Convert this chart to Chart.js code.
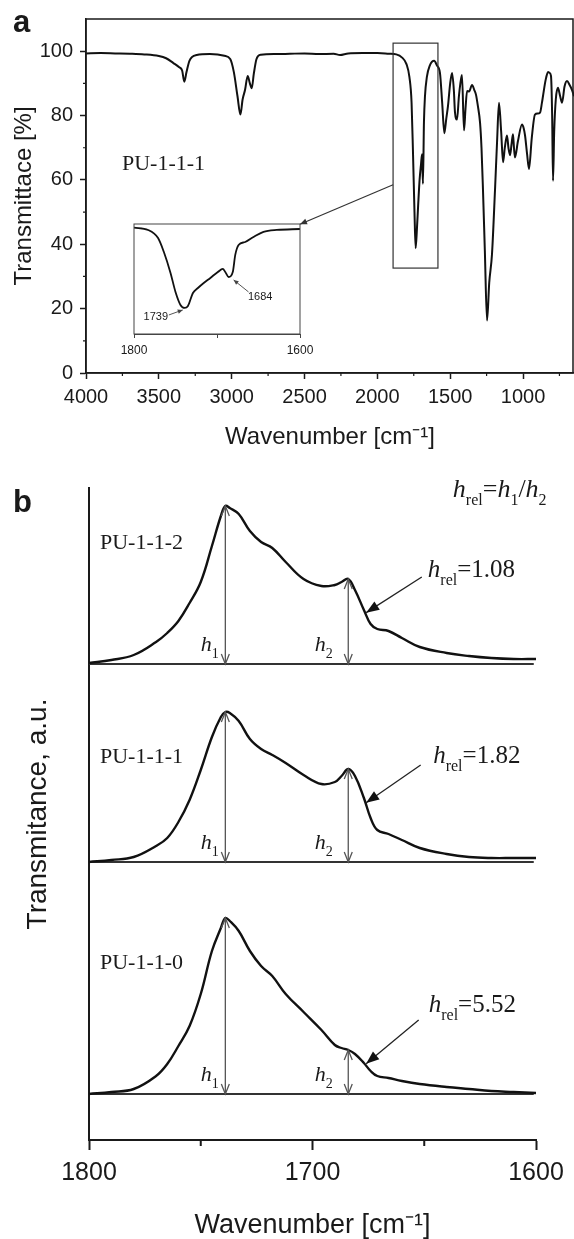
<!DOCTYPE html>
<html>
<head>
<meta charset="utf-8">
<script src="https://cdn.jsdelivr.net/npm/chart.js@4/dist/chart.umd.min.js"></script>
<style>
  body { margin: 0; background: #fff; }
  #wrap { position: relative; width: 574px; height: 1239px; background: #fff; }
  canvas { position: absolute; left: 0; }
</style>
</head>
<body>
<div id="wrap">
  <canvas id="chartA" width="574" height="452" style="top:0"></canvas>
  <canvas id="inset" width="230" height="170" style="top:195px;left:100px"></canvas>
  <canvas id="chartB" width="574" height="779" style="top:460px"></canvas>
</div>
<script>
const SANS = '"Liberation Sans", Arial, sans-serif';
const SERIF = '"Liberation Serif", "Times New Roman", serif';
const INK = '#1a1a1a';

// panel a - full spectrum of PU-1-1-1
const fullWavenumber = [4000, 3900, 3800, 3700, 3600, 3500, 3450, 3400, 3360, 3340, 3325, 3310, 3290, 3240, 3150, 3050,
  3010, 2985, 2960, 2940, 2925, 2908, 2890, 2875, 2862, 2848, 2830, 2800, 2700, 2600, 2500, 2400, 2300, 2256, 2200, 2100,
  2000, 1920, 1870, 1830, 1800, 1780, 1765, 1755, 1745, 1737, 1728, 1720, 1710, 1700, 1693, 1687, 1680, 1673, 1660, 1640,
  1610, 1590, 1570, 1555, 1540, 1527, 1515, 1500, 1487, 1475, 1467, 1453, 1440, 1430, 1419, 1405, 1395, 1384, 1370, 1350,
  1335, 1323, 1310, 1295, 1285, 1275, 1262, 1247, 1232, 1213, 1192, 1178, 1165, 1150, 1137, 1125, 1110, 1100, 1089, 1079,
  1069, 1062, 1055, 1035, 1007, 995, 986, 972, 959, 940, 918, 900, 883, 870, 863, 845, 828, 818, 808, 800, 794, 786, 775,
  760, 745, 732, 715, 698, 680, 664, 650];
const fullTransmittance = [99.3, 99.4, 99.3, 99.2, 99.0, 98.5, 97.8, 96.3, 95.0, 94.0, 90.5, 93.5, 97.0, 98.8, 99.1, 98.6,
  97.6, 93.5, 86.0, 80.3, 85.0, 88.0, 92.3, 90.0, 88.5, 93.0, 97.5, 98.9, 99.1, 99.2, 99.3, 99.1, 99.2, 98.8, 99.3, 99.4,
  99.4, 99.2, 99.0, 98.0, 96.0, 92.0, 84.0, 68.0, 50.0, 38.8, 45.0, 52.0, 60.0, 65.0, 68.0, 58.8, 78.0, 86.0, 92.0, 95.5,
  97.0, 95.5, 93.2, 84.0, 74.5, 79.0, 83.0, 90.0, 93.2, 88.0, 81.0, 78.8, 86.0, 90.0, 92.6, 75.4, 82.0, 87.6, 87.5, 89.5,
  88.0, 86.5, 83.0, 77.8, 70.0, 57.2, 38.0, 16.3, 28.0, 36.9, 57.2, 72.0, 84.0, 75.0, 65.5, 70.0, 73.8, 70.0, 67.7, 71.0,
  74.2, 70.0, 67.0, 72.0, 77.2, 76.0, 73.8, 68.0, 63.4, 73.0, 80.3, 80.6, 80.9, 84.0, 86.0, 91.0, 93.5, 93.3, 92.3, 80.0, 59.7, 75.0, 85.0,
  88.6, 86.0, 84.0, 89.0, 90.7, 89.5, 88.0, 86.0];
const fullTicksX = [4000, 3500, 3000, 2500, 2000, 1500, 1000];
const fullMinorX = [3750, 3250, 2750, 2250, 1750, 1250, 750];
const fullTicksY = [0, 20, 40, 60, 80, 100];
const fullMinorY = [10, 30, 50, 70, 90];

// inset - carbonyl band
const insetWavenumber = [1800, 1783, 1771, 1764, 1756, 1750, 1744, 1739, 1735, 1729, 1723, 1716, 1708, 1699, 1693, 1690,
  1686, 1681, 1678, 1674, 1666, 1656, 1644, 1628, 1600];
const insetTransmittance = [99.5, 97.8, 91.7, 81.1, 65.3, 50.9, 41.1, 38.8, 40.3, 50.1, 53.9, 57.7, 61.5, 66.0, 68.3, 66.0,
  62.2, 66.0, 78.9, 86.4, 88.7, 92.5, 96.3, 97.8, 98.5];
const insetTicks = [1800, 1700, 1600];
const insetLabels = ['1800', '', '1600'];

// panel b - carbonyl band of the three samples
const bandWavenumber = [1800, 1790, 1780, 1770, 1765, 1760, 1755, 1750, 1745, 1741, 1739, 1737, 1733, 1728, 1723, 1718,
  1712, 1704, 1696, 1690, 1687, 1684, 1681, 1677, 1674, 1671, 1666, 1660, 1652, 1640, 1630, 1620, 1610, 1600];
const pu112 = [0.01, 0.04, 0.09, 0.22, 0.31, 0.43, 0.61, 0.82, 1.18, 1.48, 1.58, 1.56, 1.50, 1.33, 1.22, 1.16,
  1.02, 0.85, 0.78, 0.79, 0.82, 0.85, 0.74, 0.54, 0.40, 0.35, 0.33, 0.26, 0.17, 0.11, 0.08, 0.06, 0.05, 0.05];
const pu111 = [0.00, 0.02, 0.05, 0.16, 0.24, 0.40, 0.62, 0.92, 1.25, 1.45, 1.50, 1.49, 1.41, 1.23, 1.13, 1.07,
  0.99, 0.87, 0.78, 0.80, 0.86, 0.93, 0.86, 0.64, 0.44, 0.32, 0.28, 0.22, 0.14, 0.08, 0.05, 0.04, 0.04, 0.04];
const pu110 = [0.00, 0.02, 0.05, 0.18, 0.30, 0.48, 0.68, 1.00, 1.43, 1.66, 1.76, 1.73, 1.63, 1.43, 1.28, 1.18,
  1.00, 0.82, 0.64, 0.49, 0.46, 0.44, 0.40, 0.31, 0.23, 0.18, 0.16, 0.13, 0.10, 0.07, 0.05, 0.03, 0.02, 0.01];
const sampleNames = ['PU-1-1-2', 'PU-1-1-1', 'PU-1-1-0'];
const sampleSeries = [pu112, pu111, pu110];
const sampleOffsets = [4.76, 2.78, 0.46];
const hRelValues = ['1.08', '1.82', '5.52'];
const peakPositions = [1739, 1684];
const bandTicks = [1800, 1700, 1600];
const bandMinor = [1750, 1650];

const toPoints = (xs, ys, off = 0) => xs.map((x, i) => ({ x, y: ys[i] + off }));

function valueAt(xs, ys, w) {
  for (let i = 0; i < xs.length - 1; i++) {
    if (w <= xs[i] && w >= xs[i + 1]) {
      const t = (xs[i] - w) / (xs[i] - xs[i + 1]);
      return ys[i] + t * (ys[i + 1] - ys[i]);
    }
  }
  return ys[ys.length - 1];
}

function arrowHead(ctx, x1, y1, x2, y2, len, half, filled) {
  const a = Math.atan2(y2 - y1, x2 - x1);
  const bx = x2 - len * Math.cos(a), by = y2 - len * Math.sin(a);
  const nx = -Math.sin(a) * half, ny = Math.cos(a) * half;
  ctx.beginPath();
  ctx.moveTo(bx + nx, by + ny);
  ctx.lineTo(x2, y2);
  ctx.lineTo(bx - nx, by - ny);
  if (filled) { ctx.closePath(); ctx.fill(); } else { ctx.stroke(); }
}

function arrow(ctx, x1, y1, x2, y2, len, half, filled) {
  ctx.beginPath();
  ctx.moveTo(x1, y1);
  ctx.lineTo(x2, y2);
  ctx.stroke();
  arrowHead(ctx, x1, y1, x2, y2, len, half, filled);
}

// text with italic / subscript parts, left aligned on the baseline
function richText(ctx, x, y, parts, size) {
  let cx = x;
  ctx.textBaseline = 'alphabetic';
  ctx.textAlign = 'left';
  parts.forEach(p => {
    const s = p.sub ? Math.round(size * 0.62) : size;
    ctx.font = (p.it ? 'italic ' : '') + s + 'px ' + SERIF;
    ctx.fillText(p.t, cx, y + (p.sub ? size * 0.3 : 0));
    cx += ctx.measureText(p.t).width;
  });
}

function minorTicks(ctx, chart, xs, ys, len, width) {
  const ca = chart.chartArea;
  ctx.lineWidth = width;
  ctx.beginPath();
  xs.forEach(v => {
    const px = chart.scales.x.getPixelForValue(v);
    ctx.moveTo(px, ca.bottom); ctx.lineTo(px, ca.bottom + len);
  });
  ys.forEach(v => {
    const py = chart.scales.y.getPixelForValue(v);
    ctx.moveTo(ca.left, py); ctx.lineTo(ca.left - len, py);
  });
  ctx.stroke();
}

const plain = v => String(v);

const axisCommon = (size, tickLen, width) => ({
  ticks: { font: { family: SANS, size: size }, color: INK, maxRotation: 0, autoSkip: false, callback: plain },
  grid: { drawOnChartArea: false, tickLength: tickLen, tickColor: INK, tickWidth: width },
  border: { color: INK, width: width }
});

/**
 * Panel a
 */
const ax = axisCommon(20, 6, 1.5);
new Chart(document.getElementById('chartA'), {
  type: 'line',
  data: {
    datasets: [{
      data: toPoints(fullWavenumber, fullTransmittance),
      borderColor: '#111', borderWidth: 2, pointRadius: 0, cubicInterpolationMode: 'monotone'
    }]
  },
  options: {
    responsive: false, animation: false,
    layout: { padding: { top: 14, left: 0, right: 0, bottom: 0 } },
    plugins: { legend: { display: false }, tooltip: { enabled: false } },
    scales: {
      x: {
        type: 'linear', reverse: true, min: 650, max: 4000,
        afterBuildTicks: s => { s.ticks = fullTicksX.map(v => ({ value: v })); },
        afterFit: s => { s.height = 79; },
        ticks: { ...ax.ticks, padding: 6 },
        grid: ax.grid, border: ax.border,
        title: { display: true, text: 'Wavenumber [cm⁻¹]', color: INK,
          font: { family: SANS, size: 24, lineHeight: 1 }, padding: { top: 0, bottom: 3 } }
      },
      y: {
        type: 'linear', min: 0, max: 110,
        afterBuildTicks: s => { s.ticks = fullTicksY.map(v => ({ value: v })); },
        afterFit: s => { s.width = 86; },
        ticks: { ...ax.ticks, padding: 7 },
        grid: ax.grid, border: ax.border,
        title: { display: true, text: 'Transmittace [%]', color: INK,
          font: { family: SANS, size: 24, lineHeight: 1 }, padding: { top: 12, bottom: 0 } }
      }
    }
  },
  plugins: [{
    id: 'panelA',
    afterDraw(chart) {
      const { ctx, chartArea: ca } = chart;
      const X = v => chart.scales.x.getPixelForValue(v);
      const Y = v => chart.scales.y.getPixelForValue(v);
      ctx.save();
      ctx.strokeStyle = INK;
      ctx.lineWidth = 1.5;
      ctx.strokeRect(ca.left, ca.top, ca.right - ca.left - 1, ca.bottom - ca.top);
      minorTicks(ctx, chart, fullMinorX, fullMinorY, 3, 1.2);

      // zoom box around the carbonyl band
      ctx.strokeStyle = '#333';
      ctx.lineWidth = 1.2;
      ctx.strokeRect(X(1892), Y(102.5), X(1584) - X(1892), Y(32.6) - Y(102.5));
      ctx.fillStyle = '#333';
      arrow(ctx, X(1892), Y(58.5), X(2531), Y(46.2), 7, 3, true);

      ctx.fillStyle = INK;
      ctx.font = '22px ' + SERIF;
      ctx.textAlign = 'left';
      ctx.textBaseline = 'middle';
      ctx.fillText('PU-1-1-1', X(3753), Y(64.9));

      ctx.font = 'bold 31px ' + SANS;
      ctx.textBaseline = 'alphabetic';
      ctx.fillText('a', 13, 32);
      ctx.restore();
    }
  }]
});

/**
 * Inset of panel a
 */
new Chart(document.getElementById('inset'), {
  type: 'line',
  data: {
    datasets: [{
      data: toPoints(insetWavenumber, insetTransmittance),
      borderColor: '#111', borderWidth: 1.8, pointRadius: 0, cubicInterpolationMode: 'monotone'
    }]
  },
  options: {
    responsive: false, animation: false,
    layout: { padding: { top: 29, left: 34, right: 30, bottom: 0 } },
    plugins: { legend: { display: false }, tooltip: { enabled: false } },
    scales: {
      x: {
        type: 'linear', reverse: true, min: 1600, max: 1800,
        afterBuildTicks: s => { s.ticks = insetTicks.map(v => ({ value: v })); },
        afterFit: s => { s.height = 31; },
        ticks: { font: { family: SANS, size: 12 }, color: INK, padding: 5, maxRotation: 0, autoSkip: false,
          callback: (v, i) => insetLabels[i] },
        grid: { drawOnChartArea: false, tickLength: 4, tickColor: '#444', tickWidth: 1 },
        border: { color: '#444', width: 1 }
      },
      y: { display: false, min: 19.1, max: 102.3 }
    }
  },
  plugins: [{
    id: 'insetNotes',
    afterDraw(chart) {
      const { ctx, chartArea: ca } = chart;
      const X = v => chart.scales.x.getPixelForValue(v);
      const Y = v => chart.scales.y.getPixelForValue(v);
      ctx.save();
      ctx.strokeStyle = '#444';
      ctx.lineWidth = 1;
      ctx.strokeRect(ca.left, ca.top, ca.right - ca.left, ca.bottom - ca.top);
      ctx.fillStyle = '#444';
      ctx.strokeStyle = '#555';
      arrow(ctx, X(1758), Y(33.5), X(1741.3), Y(37.3), 5, 2.2, true);
      arrow(ctx, X(1662), Y(50.9), X(1680), Y(60), 5, 2.2, true);
      ctx.fillStyle = INK;
      ctx.font = '11px ' + SANS;
      ctx.textAlign = 'center';
      ctx.textBaseline = 'middle';
      ctx.fillText('1739', X(1773.7), Y(32));
      ctx.fillText('1684', X(1648), Y(47.1));
      ctx.restore();
    }
  }]
});

/**
 * Panel b
 */
const bandDatasets = [];
sampleSeries.forEach((series, i) => {
  bandDatasets.push({
    data: toPoints(bandWavenumber, series, sampleOffsets[i]),
    borderColor: '#111', borderWidth: 2.4, pointRadius: 0, tension: 0.4
  });
  bandDatasets.push({
    data: [{ x: 1800, y: sampleOffsets[i] }, { x: 1601, y: sampleOffsets[i] }],
    borderColor: '#333', borderWidth: 2, pointRadius: 0
  });
});

const bx = axisCommon(25, 10, 2);
new Chart(document.getElementById('chartB'), {
  type: 'line',
  data: { datasets: bandDatasets },
  options: {
    responsive: false, animation: false,
    layout: { padding: { top: 28, left: 0, right: 38, bottom: 0 } },
    plugins: { legend: { display: false }, tooltip: { enabled: false } },
    scales: {
      x: {
        type: 'linear', reverse: true, min: 1600, max: 1800,
        afterBuildTicks: s => { s.ticks = bandTicks.map(v => ({ value: v })); },
        afterFit: s => { s.height = 99; },
        ticks: { ...bx.ticks, padding: 8 },
        grid: bx.grid, border: bx.border,
        title: { display: true, text: 'Wavenumber [cm⁻¹]', color: INK,
          font: { family: SANS, size: 27, lineHeight: 1 }, padding: { top: 0, bottom: 0 } }
      },
      y: {
        type: 'linear', min: 0, max: 6.52,
        afterBuildTicks: s => { s.ticks = []; },
        afterFit: s => { s.width = 89; },
        ticks: { display: false },
        grid: { drawOnChartArea: false, drawTicks: false },
        border: bx.border,
        title: { display: true, text: 'Transmitance, a.u.', color: INK,
          font: { family: SANS, size: 28, lineHeight: 1 }, padding: { top: 24, bottom: 0 } }
      }
    }
  },
  plugins: [{
    id: 'panelB',
    afterDraw(chart) {
      const { ctx } = chart;
      const X = v => chart.scales.x.getPixelForValue(v);
      const Y = v => chart.scales.y.getPixelForValue(v);
      ctx.save();
      ctx.strokeStyle = INK;
      minorTicks(ctx, chart, bandMinor, [], 6, 2);

      const labelY = [5.97, 3.83, 1.77];
      const relText = [[1648.4, 0.87], [1646, 0.99], [1648, 0.82]];
      const relStart = [[1651.1, 0.87], [1651.6, 0.97], [1652.5, 0.74]];

      sampleSeries.forEach((series, i) => {
        const off = sampleOffsets[i];
        // h1 / h2 double arrows from baseline to band maximum
        ctx.strokeStyle = '#555';
        ctx.lineWidth = 1.3;
        peakPositions.forEach((w, k) => {
          const top = Y(off + valueAt(bandWavenumber, series, w));
          const base = Y(off);
          ctx.beginPath();
          ctx.moveTo(X(w), base); ctx.lineTo(X(w), top);
          ctx.stroke();
          arrowHead(ctx, X(w), base, X(w), top, 10, 4, false);
          arrowHead(ctx, X(w), top, X(w), base, 10, 4, false);
          ctx.fillStyle = INK;
          richText(ctx, X(k === 0 ? 1750 : 1699), Y(off + 0.13),
            [{ t: 'h', it: true }, { t: String(k + 1), sub: true }], 22);
        });

        ctx.fillStyle = INK;
        ctx.font = '22px ' + SERIF;
        ctx.textAlign = 'left';
        ctx.textBaseline = 'middle';
        ctx.fillText(sampleNames[i], X(1795.1), Y(labelY[i]));

        richText(ctx, X(relText[i][0]), Y(off + relText[i][1]),
          [{ t: 'h', it: true }, { t: 'rel', sub: true }, { t: '=' + hRelValues[i] }], 25);

        ctx.strokeStyle = '#222';
        ctx.lineWidth = 1.3;
        ctx.fillStyle = '#111';
        const endY = off + valueAt(bandWavenumber, series, 1676) + 0.02;
        arrow(ctx, X(relStart[i][0]), Y(off + relStart[i][1]), X(1676), Y(endY), 13, 5, true);
      });

      ctx.fillStyle = INK;
      richText(ctx, X(1637.2), Y(6.43),
        [{ t: 'h', it: true }, { t: 'rel', sub: true }, { t: '=' }, { t: 'h', it: true }, { t: '1', sub: true },
         { t: '/' }, { t: 'h', it: true }, { t: '2', sub: true }], 26);

      ctx.font = 'bold 31px ' + SANS;
      ctx.textAlign = 'left';
      ctx.textBaseline = 'alphabetic';
      ctx.fillText('b', 13, 52);
      ctx.restore();
    }
  }]
});
</script>
</body>
</html>
